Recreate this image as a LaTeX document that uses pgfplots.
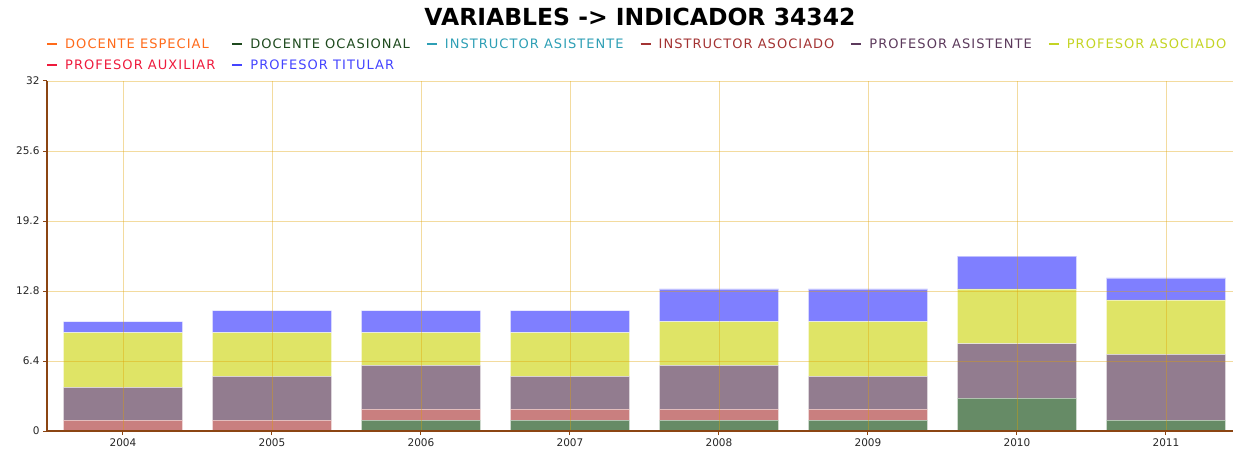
\documentclass[border=0pt]{standalone}
\usepackage{pgfplots}
\pgfplotsset{compat=1.18}
\usepackage{fontspec}
\setmainfont{DejaVu Sans}
\newfontfamily\legfont[LetterSpace=8]{DejaVu Sans}
\definecolor{lEsp}{HTML}{FF6A1A}
\definecolor{lOca}{HTML}{1E4A1E}
\definecolor{lIAs}{HTML}{2E9FB5}
\definecolor{lIAo}{HTML}{A33333}
\definecolor{lPAs}{HTML}{5C3A5C}
\definecolor{lPAo}{HTML}{C4D424}
\definecolor{lPAu}{HTML}{EE1A3C}
\definecolor{lPTi}{HTML}{4444FF}
\definecolor{fOca}{HTML}{003D00}
\definecolor{fIAo}{HTML}{A52A2A}
\definecolor{fPAs}{HTML}{4A2445}
\definecolor{fPAo}{HTML}{CAD200}
\definecolor{fPTi}{HTML}{0000FF}
\definecolor{axbrown}{HTML}{8B4513}
\definecolor{gridc}{HTML}{E0A000}
\begin{document}
\begin{tikzpicture}
\begin{axis}[
 name=ax,
 scale only axis, width=1186pt, height=350pt,
 xmin=-0.51, xmax=7.45, ymin=0, ymax=32,
 ybar stacked, bar width=0.8,
 xtick={0,1,2,3,4,5,6,7},
 xticklabels={2004,2005,2006,2007,2008,2009,2010,2011},
 ytick={0,6.4,12.8,19.2,25.6,32},
 yticklabels={0,6.4,12.8,19.2,25.6,32},
 axis x line*=bottom, axis y line*=left,
 axis line style={axbrown, line width=1.5pt},
 tick style={axbrown, line width=1pt},
 major tick length=4pt, tick align=outside,
 xmajorgrids, ymajorgrids,
 grid style={gridc, opacity=0.38, line width=0.8pt},
 axis on top,
 ticklabel style={font=\fontsize{10.5}{12}\selectfont, text=black!85},
 legend columns=6,
 legend image code/.code={\draw[#1, line width=2pt] (0pt,0pt) -- (10pt,0pt);},
 legend style={draw=none, fill=none, at={(0,1)}, anchor=south west,
   xshift=-1pt, yshift=8pt, inner sep=0pt, row sep=6pt, column sep=5pt,
   font=\legfont\fontsize{13}{15}\selectfont,
   /tikz/every even column/.append style={column sep=14pt}},
 legend cell align=left,
]
\addlegendimage{lEsp}\addlegendentry{\textcolor{lEsp}{DOCENTE ESPECIAL}}
\addlegendimage{lOca}\addlegendentry{\textcolor{lOca}{DOCENTE OCASIONAL}}
\addlegendimage{lIAs}\addlegendentry{\textcolor{lIAs}{INSTRUCTOR ASISTENTE}}
\addlegendimage{lIAo}\addlegendentry{\textcolor{lIAo}{INSTRUCTOR ASOCIADO}}
\addlegendimage{lPAs}\addlegendentry{\textcolor{lPAs}{PROFESOR ASISTENTE}}
\addlegendimage{lPAo}\addlegendentry{\textcolor{lPAo}{PROFESOR ASOCIADO}}
\addlegendimage{lPAu}\addlegendentry{\textcolor{lPAu}{PROFESOR AUXILIAR}}
\addlegendimage{lPTi}\addlegendentry{\textcolor{lPTi}{PROFESOR TITULAR}}
\addplot[forget plot, fill=fOca, fill opacity=0.6, draw=white, draw opacity=0.5, line width=0.5pt]
 coordinates {(0,0) (1,0) (2,1) (3,1) (4,1) (5,1) (6,3) (7,1)};
\addplot[forget plot, fill=fIAo, fill opacity=0.6, draw=white, draw opacity=0.5, line width=0.5pt]
 coordinates {(0,1) (1,1) (2,1) (3,1) (4,1) (5,1) (6,0) (7,0)};
\addplot[forget plot, fill=fPAs, fill opacity=0.6, draw=white, draw opacity=0.5, line width=0.5pt]
 coordinates {(0,3) (1,4) (2,4) (3,3) (4,4) (5,3) (6,5) (7,6)};
\addplot[forget plot, fill=fPAo, fill opacity=0.6, draw=white, draw opacity=0.5, line width=0.5pt]
 coordinates {(0,5) (1,4) (2,3) (3,4) (4,4) (5,5) (6,5) (7,5)};
\addplot[forget plot, fill=fPTi, fill opacity=0.5, draw=white, draw opacity=0.5, line width=0.5pt]
 coordinates {(0,1) (1,2) (2,2) (3,2) (4,3) (5,3) (6,3) (7,2)};
\end{axis}
\node[font=\bfseries\fontsize{23.5}{28}\selectfont] at ([yshift=64pt]ax.north) {VARIABLES -> INDICADOR 34342};
\pgfresetboundingbox
\path[use as bounding box] ([xshift=-47pt,yshift=-23pt]ax.south west) rectangle ([yshift=81pt]ax.north east);
\end{tikzpicture}
\end{document}
